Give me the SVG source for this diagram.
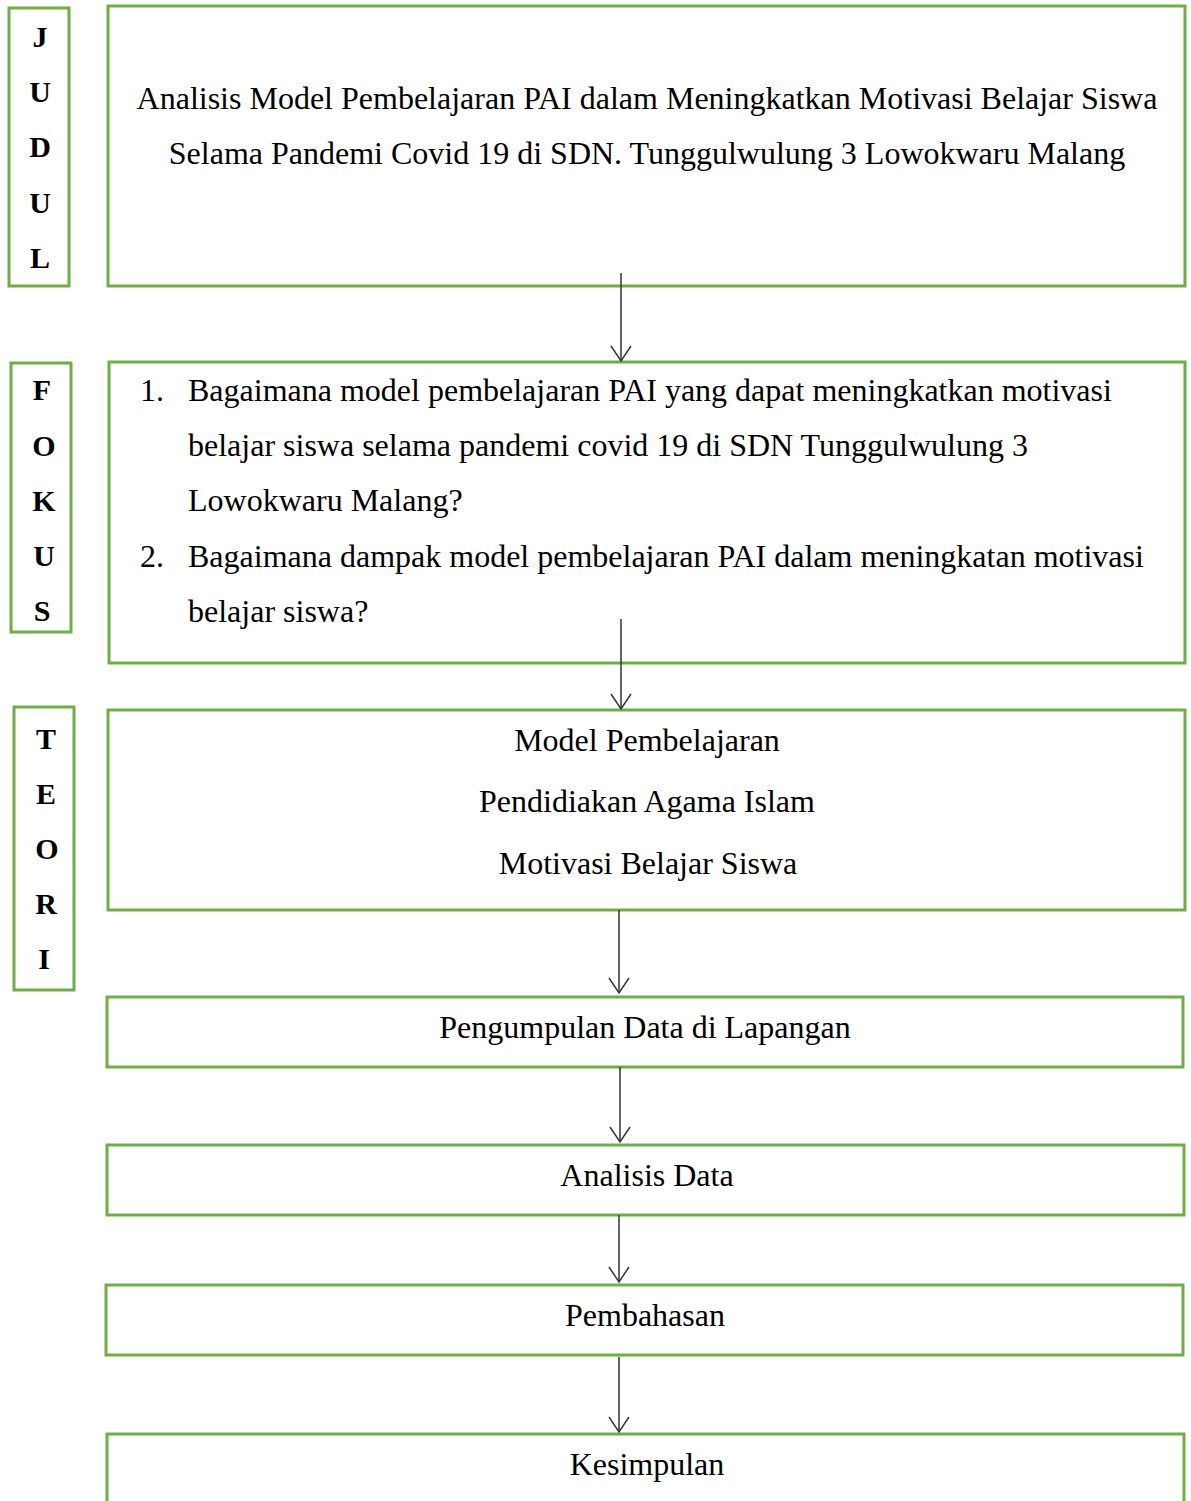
<svg xmlns="http://www.w3.org/2000/svg" width="1191" height="1501" viewBox="0 0 1191 1501">
<style>
.box{fill:#fff;stroke:#70AD47;stroke-width:3}
.t{font-family:"Liberation Serif","Times New Roman",serif;font-size:32px;fill:#000}
.c{text-anchor:middle}
.b{font-weight:bold;text-anchor:middle;font-size:30px}
.ar{stroke:#333;stroke-width:1.5;fill:none}
</style>
<defs>
<marker id="ah" markerWidth="18" markerHeight="22" refX="16" refY="11" orient="auto" markerUnits="userSpaceOnUse" viewBox="0 0 18 22">
<path d="M1,1 L16,11 L1,21" fill="none" stroke="#333" stroke-width="1.5"/>
</marker>
</defs>
<rect width="1191" height="1501" fill="#fff"/>
<g id="judul-label"><rect class="box" x="9" y="8" width="60" height="278"/>
<text class="t b" x="40" y="47">J</text><text class="t b" x="40" y="102">U</text><text class="t b" x="40" y="157">D</text><text class="t b" x="40" y="213">U</text><text class="t b" x="40" y="268">L</text></g>
<g id="judul"><rect class="box" x="108" y="6" width="1077" height="280"/>
<text class="t c" x="647" y="109">Analisis Model Pembelajaran PAI dalam Meningkatkan Motivasi Belajar Siswa</text>
<text class="t c" x="647" y="164">Selama Pandemi Covid 19 di SDN. Tunggulwulung 3 Lowokwaru Malang</text></g>
<g id="fokus-label"><rect class="box" x="11" y="363" width="60" height="269"/>
<text class="t b" x="42" y="400">F</text><text class="t b" x="44" y="456">O</text><text class="t b" x="44" y="511">K</text><text class="t b" x="44" y="566">U</text><text class="t b" x="42" y="621">S</text></g>
<g id="fokus"><rect class="box" x="109" y="362" width="1076" height="301"/>
<text class="t" x="140" y="401">1.</text><text class="t" x="188" y="401">Bagaimana model pembelajaran PAI yang dapat meningkatkan motivasi</text>
<text class="t" x="188" y="456">belajar siswa selama pandemi covid 19 di SDN Tunggulwulung 3</text>
<text class="t" x="188" y="511">Lowokwaru Malang?</text>
<text class="t" x="140" y="567">2.</text><text class="t" x="188" y="567">Bagaimana dampak model pembelajaran PAI dalam meningkatan motivasi</text>
<text class="t" x="188" y="622">belajar siswa?</text></g>
<g id="teori-label"><rect class="box" x="14" y="707" width="60" height="283"/>
<text class="t b" x="46" y="749">T</text><text class="t b" x="46" y="804">E</text><text class="t b" x="47" y="859">O</text><text class="t b" x="46" y="914">R</text><text class="t b" x="44" y="969">I</text></g>
<g id="teori"><rect class="box" x="108" y="710" width="1077" height="200"/>
<text class="t c" x="647" y="751">Model Pembelajaran</text>
<text class="t c" x="647" y="812">Pendidiakan Agama Islam</text>
<text class="t c" x="648" y="874">Motivasi Belajar Siswa</text></g>
<g id="pengumpulan"><rect class="box" x="107" y="997" width="1076" height="70"/>
<text class="t c" x="645" y="1038">Pengumpulan Data di Lapangan</text></g>
<g id="analisis"><rect class="box" x="107" y="1145" width="1077" height="70"/>
<text class="t c" x="647" y="1186">Analisis Data</text></g>
<g id="pembahasan"><rect class="box" x="106" y="1285" width="1077" height="70"/>
<text class="t c" x="645" y="1326">Pembahasan</text></g>
<g id="kesimpulan"><rect class="box" x="107" y="1434" width="1077" height="80"/>
<text class="t c" x="647" y="1475">Kesimpulan</text></g>
<g id="connectors">
<line class="ar" x1="621" y1="273" x2="621" y2="361" marker-end="url(#ah)"/>
<line class="ar" x1="621" y1="619" x2="621" y2="709" marker-end="url(#ah)"/>
<line class="ar" x1="619" y1="910" x2="619" y2="993" marker-end="url(#ah)"/>
<line class="ar" x1="620" y1="1067" x2="620" y2="1142" marker-end="url(#ah)"/>
<line class="ar" x1="619" y1="1215" x2="619" y2="1282" marker-end="url(#ah)"/>
<line class="ar" x1="619" y1="1357" x2="619" y2="1432" marker-end="url(#ah)"/>
</g>
</svg>
